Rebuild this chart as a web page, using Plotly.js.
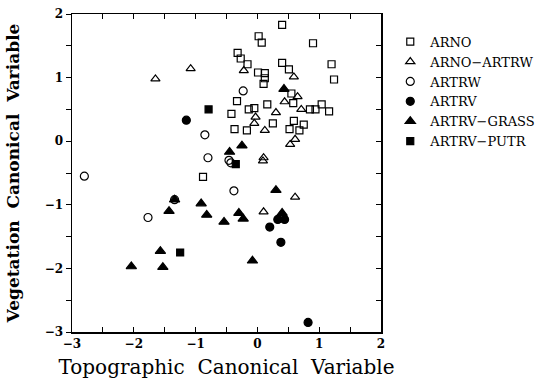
<!DOCTYPE html>
<html>
<head>
<meta charset="utf-8">
<script src="https://cdn.plot.ly/plotly-3.0.1.min.js"></script>
<style>html,body{margin:0;padding:0;background:#fff;}#chart{width:553px;height:382px;}</style>
</head>
<body>
<div id="chart"></div>
<script>
// ARNO (open squares)
const arnoX = [0.40,0.02,0.07,0.90,-0.32,-0.27,-0.16,0.40,0.51,1.20,1.24,0.01,0.12,0.12,0.10,0.55,0.58,-0.33,-0.42,-0.14,-0.05,0.16,0.85,0.94,1.04,1.16,0.59,0.52,0.68,0.75,0.25,-0.37,-0.17,-0.88];
const arnoY = [1.83,1.65,1.55,1.54,1.39,1.30,1.21,1.23,1.13,1.21,0.97,1.08,1.07,0.99,0.90,0.75,0.60,0.63,0.43,0.50,0.52,0.58,0.50,0.50,0.58,0.47,0.32,0.19,0.17,0.26,0.28,0.19,0.17,-0.56];
// ARNO-ARTRW (open triangles)
const arnoArtrwX = [-1.65,-1.08,-0.22,0.59,0.65,0.44,0.30,0.71,-0.03,-0.05,0.12,0.61,0.53,0.09,0.10,0.61,0.10];
const arnoArtrwY = [0.98,1.14,1.11,1.01,0.70,0.62,0.45,0.50,0.38,0.28,0.17,0.03,-0.05,-0.31,-0.26,-0.88,-1.11];
// ARTRW (open circles)
const artrwX = [-2.80,-1.77,-1.34,-0.80,-0.85,-0.23,-0.38,-0.46,-0.43];
const artrwY = [-0.55,-1.20,-0.92,-0.26,0.10,0.79,-0.78,-0.30,-0.34];
// ARTRV (filled circles)
const artrvX = [-1.15,0.33,0.44,0.20,0.38,0.82];
const artrvY = [0.33,-1.23,-1.23,-1.35,-1.59,-2.85];
// ARTRV-GRASS (filled triangles)
const grassX = [0.43,-0.25,-0.45,0.30,-0.91,-0.82,-0.54,-0.30,-0.23,0.40,-0.08,-1.34,-1.43,-1.57,-2.04,-1.53];
const grassY = [0.82,-0.07,-0.17,-0.77,-0.98,-1.16,-1.27,-1.13,-1.22,-1.13,-1.88,-0.92,-1.10,-1.73,-1.97,-1.98];
// ARTRV-PUTR (filled squares)
const putrX = [-0.79,-1.25,-0.35];
const putrY = [0.50,-1.75,-0.36];

const groupNames = ["ARNO","ARNO\u2212ARTRW","ARTRW","ARTRV","ARTRV\u2212GRASS","ARTRV\u2212PUTR"];
const tickVals = [-3,-2,-1,0,1,2];
const tickText = ["\u22123","\u22122","\u22121","0","1","2"];

const groups = [
  [arnoX, arnoY, "square-open", 7],
  [arnoArtrwX, arnoArtrwY, "triangle-up-open", 8],
  [artrwX, artrwY, "circle-open", 8],
  [artrvX, artrvY, "circle", 8],
  [grassX, grassY, "triangle-up", 9],
  [putrX, putrY, "square", 7]
];

const traces = groups.map((g, i) => ({
  type: "scatter", mode: "markers", name: groupNames[i],
  x: g[0], y: g[1],
  marker: {symbol: g[2], size: g[3], color: "#000", line: {color: "#000", width: 1.2}},
  cliponaxis: false
}));
traces.push({type:"scatter", mode:"markers", x:[], y:[], xaxis:"x2", yaxis:"y2", showlegend:false, hoverinfo:"skip"});

const tickFont = {family: "DejaVu Serif", size: 12, color: "#000", weight: "bold"};

const layout = {
  width: 553, height: 382,
  margin: {l: 72, r: 170, t: 14, b: 50},
  paper_bgcolor: "#fff", plot_bgcolor: "#fff",
  font: {family: "DejaVu Serif", color: "#000"},
  showlegend: true,
  legend: {x: 1.03, y: 0.96, xanchor: "left", yanchor: "top", font: {family: "DejaVu Serif", size: 13, color: "#000"}, itemsizing: "trace", itemwidth: 30, tracegroupgap: 0, bgcolor: "rgba(0,0,0,0)"},
  xaxis: {
    range: [-3, 2], tickvals: tickVals, ticktext: tickText, ticks: "inside", ticklen: 5, tickcolor: "#000",
    minor: {dtick: 0.5, ticks: "inside", ticklen: 5, tickcolor: "#000", showgrid: false},
    showline: true, linecolor: "#000", linewidth: 1.5, mirror: true, showgrid: false, zeroline: false,
    tickfont: tickFont,
    title: {text: "Topographic  Canonical  Variable", font: {family: "DejaVu Serif", size: 20, color: "#000"}, standoff: 10}
  },
  yaxis: {
    range: [-3, 2], tickvals: tickVals, ticktext: tickText, ticks: "outside", ticklen: 5, tickcolor: "#000",
    minor: {dtick: 0.5, ticks: "outside", ticklen: 5, tickcolor: "#000", showgrid: false},
    showline: true, linecolor: "#000", linewidth: 1.5, mirror: true, showgrid: false, zeroline: false,
    tickfont: tickFont,
    title: {text: "Vegetation  Canonical  Variable", font: {family: "DejaVu Serif", size: 17, color: "#000", weight: "bold"}, standoff: 20}
  },
  xaxis2: {overlaying: "x", side: "top", range: [-3, 2], dtick: 0.5, ticks: "inside", ticklen: 5, tickcolor: "#000", showticklabels: false, showgrid: false, zeroline: false, showline: false},
  yaxis2: {overlaying: "y", side: "right", range: [-3, 2], dtick: 0.5, ticks: "inside", ticklen: 5, tickcolor: "#000", showticklabels: false, showgrid: false, zeroline: false, showline: false}
};

Plotly.newPlot("chart", traces, layout, {displayModeBar: false, staticPlot: true});
</script>
</body>
</html>
